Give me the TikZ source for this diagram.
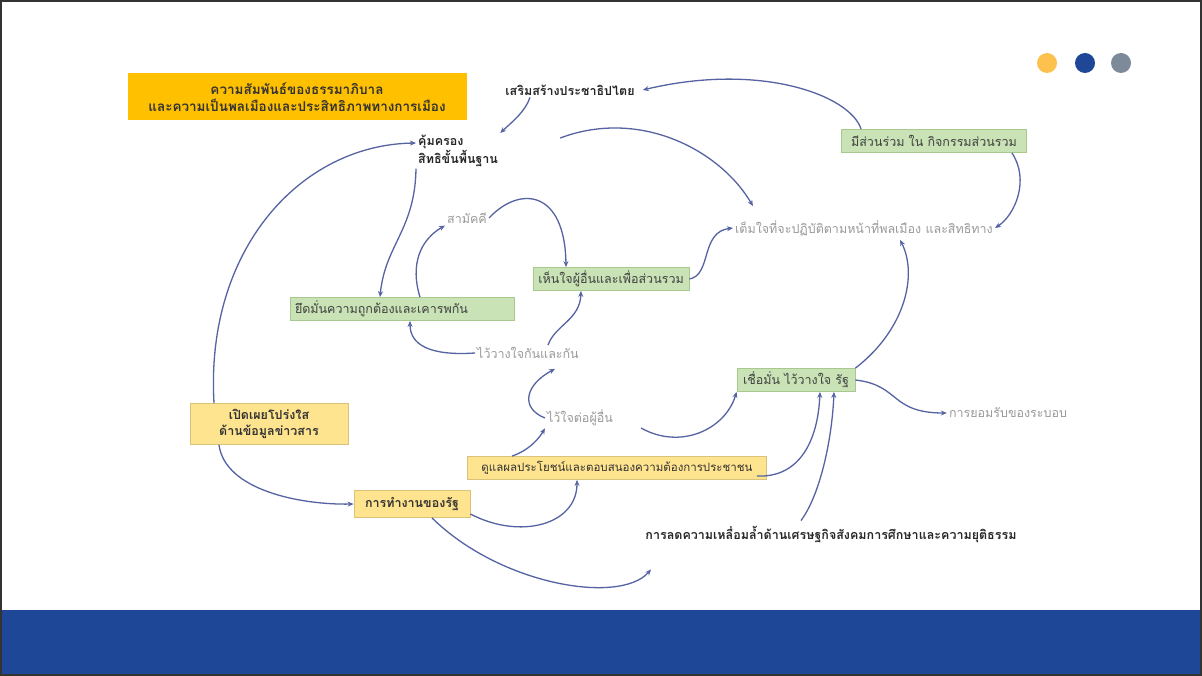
\documentclass[tikz,border=0pt]{standalone}
\usepackage{fontspec}
\newfontfamily\thaifont[Script=Thai]{Loma}
\usetikzlibrary{arrows.meta}
\definecolor{boxorange}{HTML}{FFC000}
\definecolor{boxgreen}{HTML}{C9E3B6}
\definecolor{linegreen}{HTML}{A8C98E}
\definecolor{boxyellow}{HTML}{FFE48F}
\definecolor{lineyellow}{HTML}{D9C27A}
\definecolor{bandblue}{HTML}{1E4897}
\definecolor{dotgray}{HTML}{7D8A9A}
\definecolor{dotyellow}{HTML}{FDC14E}
\definecolor{linkblue}{HTML}{5663A3}
\definecolor{softgray}{HTML}{9A9A9A}
\begin{document}
\begin{tikzpicture}[x=1pt,y=-1pt,
every node/.style={font=\thaifont\fontsize{12.5}{16}\selectfont, inner sep=2pt},
orangebox/.style={fill=boxorange, minimum width=339pt, minimum height=47pt, align=center, text=black!80, font=\thaifont\bfseries\fontsize{13.5}{17}\selectfont},
greenbox/.style={fill=boxgreen, draw=linegreen, line width=0.8pt, minimum height=23pt, text=black!75},
yellowbox/.style={fill=boxyellow, draw=lineyellow, line width=0.8pt, text=black!80},
boldtext/.style={text=black!85, font=\thaifont\bfseries\fontsize{12.5}{16}\selectfont},
graytext/.style={text=softgray},
link/.style={linkblue, line width=1.3pt, -{Stealth[length=6pt,width=5pt]}}
]
% frame and footer
\useasboundingbox (0,0) rectangle (1202,676);
\fill[white] (0,0) rectangle (1202,676);
\fill[bandblue] (0,610) rectangle (1202,676);
\draw[black!80, line width=2pt] (1,1) rectangle (1201,675);
\fill[dotyellow] (1047,63) circle (10);
\fill[bandblue] (1085,63) circle (10);
\fill[dotgray] (1121,63) circle (10);

% boxes and labels
\node[orangebox] (title) at (297,97) {ความสัมพันธ์ของธรรมาภิบาล\\และความเป็นพลเมืองและประสิทธิภาพทางการเมือง};
\node[boldtext] (democ) at (570,90) {เสริมสร้างประชาธิปไตย};
\node[boldtext, align=left, anchor=north west] (protect) at (416,133) {คุ้มครอง\\สิทธิขั้นพื้นฐาน};
\node[greenbox, minimum width=185pt] (partic) at (934,141) {มีส่วนร่วม ใน กิจกรรมส่วนรวม};
\node[graytext] (unity) at (467,218) {สามัคคี};
\node[greenbox, minimum width=156pt] (sympathy) at (611,279) {เห็นใจผู้อื่นและเพื่อส่วนรวม};
\node[graytext] (willing) at (864,228) {เต็มใจที่จะปฏิบัติตามหน้าที่พลเมือง และสิทธิทาง};
\node[greenbox, minimum width=224pt, text width=214pt, align=left] (respect) at (402,309) {ยึดมั่นความถูกต้องและเคารพกัน};
\node[graytext] (trust) at (528,353) {ไว้วางใจกันและกัน};
\node[yellowbox, minimum width=158pt, minimum height=41pt, align=center, font=\thaifont\bfseries\fontsize{12.5}{16}\selectfont] (open) at (269,424) {เปิดเผยโปร่งใส\\ด้านข้อมูลข่าวสาร};
\node[greenbox, minimum width=118pt] (confid) at (796,380) {เชื่อมั่น ไว้วางใจ รัฐ};
\node[graytext] (accept) at (1008,413) {การยอมรับของระบอบ};
\node[graytext] (trustoth) at (580,418) {ไว้ใจต่อผู้อื่น};
\node[yellowbox, minimum width=299pt, minimum height=23pt, font=\thaifont\fontsize{11.5}{14}\selectfont] (care) at (617,468) {ดูแลผลประโยชน์และตอบสนองความต้องการประชาชน};
\node[yellowbox, minimum width=116pt, minimum height=27pt, font=\thaifont\bfseries\fontsize{12.5}{16}\selectfont] (stategov) at (412,504) {การทำงานของรัฐ};
\node[boldtext] (reduce) at (831,535) {การลดความเหลื่อมล้ำด้านเศรษฐกิจสังคมการศึกษาและความยุติธรรม};

% connectors
\draw[link] ([xshift=20pt]partic.north west) .. controls (850,95) and (760,62) .. ([xshift=6pt]democ.east);
\draw[link] ([xshift=-40pt]democ.south) .. controls (525,112) and (512,122) .. (protect.north east);
\draw[link] ([xshift=60pt,yshift=-5pt]protect.north east) .. controls (640,108) and (720,150) .. ([xshift=20pt,yshift=12pt]willing.north west);
\draw[link] ([xshift=-55pt]open.north) .. controls (205,250) and (300,145) .. ([yshift=-10pt]protect.north west);
\draw[link] (protect.south west) .. controls (415,230) and (385,245) .. ([xshift=-22pt]respect.north);
\draw[link] ([xshift=18pt]respect.north) .. controls (410,265) and (420,240) .. (unity.south west);
\draw[link] (unity.east) .. controls (520,185) and (565,190) .. ([xshift=-45pt]sympathy.north);
\draw[link] (trust.west) .. controls (430,356) and (410,345) .. ([xshift=8pt]respect.south);
\draw[link] ([xshift=20pt]trust.north) .. controls (555,325) and (580,320) .. ([xshift=-30pt]sympathy.south);
\draw[link] (sympathy.east) .. controls (712,275) and (700,232) .. (willing.west);
\draw[link] ([xshift=-15pt]partic.south east) .. controls (1030,180) and (1015,215) .. (willing.east);
\draw[link] (confid.north east) .. controls (905,330) and (918,275) .. ([xshift=-95pt,yshift=-2pt]willing.south east);
\draw[link] (confid.east) .. controls (900,385) and (890,413) .. (accept.west);
\draw[link] (trustoth.west) .. controls (520,408) and (525,385) .. ([xshift=27pt,yshift=-8pt]trust.south);
\draw[link] ([xshift=-105pt]care.north) .. controls (530,450) and (540,437) .. (trustoth.south west);
\draw[link] ([xshift=26pt,yshift=-10pt]trustoth.east) .. controls (680,450) and (725,430) .. (confid.south west);
\draw[link] ([xshift=-10pt,yshift=-8pt]care.east) .. controls (800,478) and (818,440) .. ([xshift=24pt]confid.south);
\draw[link] ([xshift=-30pt,yshift=4pt]reduce.north) .. controls (820,495) and (832,440) .. ([xshift=38pt]confid.south);
\draw[link] ([xshift=-50pt]open.south) .. controls (225,490) and (300,505) .. (stategov.west);
\draw[link] ([yshift=-10pt]stategov.east) .. controls (520,540) and (577,525) .. ([xshift=-40pt]care.south);
\draw[link] ([xshift=20pt]stategov.south) .. controls (500,585) and (620,605) .. ([xshift=-180pt,yshift=-24pt]reduce.south);
\end{tikzpicture}
\end{document}
